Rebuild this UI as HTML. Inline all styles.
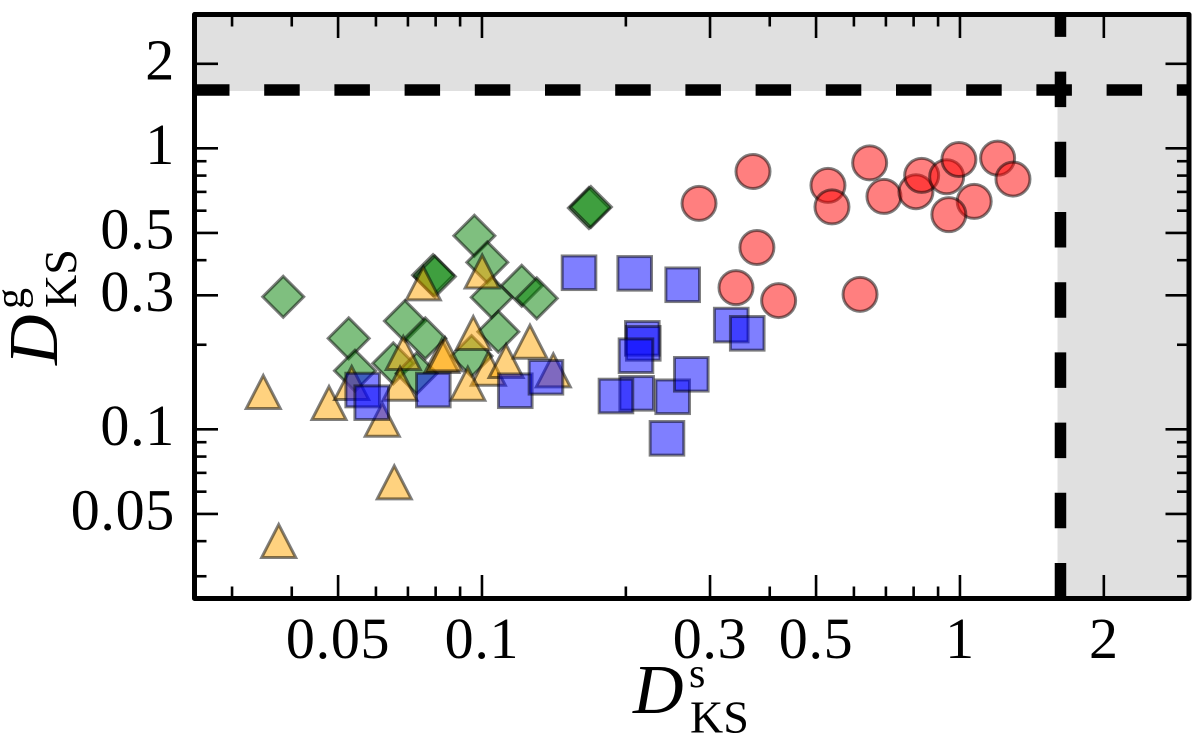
<!DOCTYPE html>
<html lang="en">
<head>
<meta charset="utf-8">
<title>Scatter of D_KS^s against D_KS^g</title>
<style>
  html, body { margin: 0; padding: 0; background: #ffffff; }
  svg { display: block; font-family: "Liberation Serif", serif; }
  .tick-label { font-size: 58px; fill: #000; letter-spacing: 0.7px; }
</style>
</head>
<body>
<svg id="chart" width="1200" height="737" viewBox="0 0 1200 737" xmlns="http://www.w3.org/2000/svg">
  <g id="shade-layer"></g>
  <g id="tick-layer"></g>
  <g id="red-layer"></g>
  <g id="green-layer"></g>
  <g id="orange-layer"></g>
  <g id="blue-layer"></g>
  <g id="limit-layer"></g>
  <rect x="194.5" y="14.5" width="994.5" height="584" fill="none" stroke="#000" stroke-width="5" stroke-linejoin="round"/>
  <g id="label-layer"></g>
  <g>
    <text x="633" y="713" font-size="70" font-style="italic">D</text>
    <text x="689" y="687" font-size="42">s</text>
    <text x="690" y="732.5" font-size="46">KS</text>
  </g>
  <g>
    <text transform="translate(57,365) rotate(-90)" font-size="70" font-style="italic">D</text>
    <text transform="translate(24,309) rotate(-90)" font-size="42">g</text>
    <text transform="translate(76,308) rotate(-90)" font-size="46">KS</text>
  </g>
</svg>
<script>
const redX = [0.369,0.2845,0.5295,0.5398,0.6473,0.6934,0.809,0.8316,0.938,0.995,1.071,0.948,1.199,1.291,0.376,0.340,0.4175,0.618];
const redY = [0.8274,0.637,0.738,0.619,0.888,0.6745,0.701,0.801,0.7925,0.9126,0.6477,0.581,0.923,0.7775,0.4438,0.3194,0.2872,0.3023];
const greenX = [0.1674,0.1690,0.0964,0.1026,0.0790,0.0797,0.03839,0.1211,0.1302,0.1048,0.0690,0.0761,0.1082,0.05262,0.05424,0.06523,0.0951,0.0730];
const greenY = [0.6131,0.6182,0.4887,0.3929,0.3540,0.3499,0.2963,0.3243,0.2925,0.2949,0.2429,0.2108,0.2225,0.2108,0.1617,0.1717,0.1823,0.1582];
const orangeX = [0.03487,0.04786,0.1001,0.07538,0.0959,0.1260,0.1031,0.1123,0.06845,0.06738,0.0824,0.0837,0.0934,0.05338,0.1410,0.06186,0.06554,0.03756];
const orangeY = [0.1369,0.1251,0.3674,0.3335,0.2220,0.2067,0.1657,0.1765,0.1884,0.1465,0.1838,0.1864,0.1465,0.1474,0.1635,0.1091,0.0653,0.04037];
const blueX = [0.1596,0.05629,0.05879,0.0791,0.1174,0.1361,0.2087,0.2630,0.3323,0.3589,0.2165,0.2175,0.2100,0.2107,0.1907,0.2506,0.2741,0.2438];
const blueY = [0.3608,0.1380,0.1244,0.1380,0.1372,0.1532,0.3590,0.3270,0.2350,0.2196,0.2108,0.2023,0.1828,0.1343,0.1314,0.1306,0.1570,0.0929];

const majorTicks = [0.05,0.1,0.3,0.5,1,2];
const minorTicks = [0.03,0.04,0.06,0.07,0.08,0.09,0.2,0.4,0.6,0.7,0.8,0.9];
const xTickLabels = ["0.05","0.1","0.3","0.5","1","2"];
const yTickLabels = ["0.05","0.1","0.3","0.5","1","2"];
const axisLimits = [0.025,3];
const shadeLimit = [1.6];
const limitLineX = [1.623];
const limitLineY = [1.613];

const NS = "http://www.w3.org/2000/svg";
const logMin = Math.log10(axisLimits[0]);
const logMax = Math.log10(axisLimits[1]);
function sx(v) { return 194.2 + (Math.log10(v) - logMin) / (logMax - logMin) * (1188 - 194.2); }
function sy(v) { return 598.5 - (Math.log10(v) - logMin) / (logMax - logMin) * (598.5 - 14.3); }

function make(tag, attrs, parent) {
  const el = document.createElementNS(NS, tag);
  for (const k in attrs) el.setAttribute(k, attrs[k]);
  parent.appendChild(el);
  return el;
}
function markStyle(color) {
  return { fill: color, "fill-opacity": 0.5, stroke: "#000", "stroke-opacity": 0.5, "stroke-width": 3, "stroke-linejoin": "miter", "stroke-miterlimit": 10 };
}

/* shaded regions */
const shadeLayer = document.getElementById("shade-layer");
const shadeTop = make("rect", { x: 194.5, y: 14.5, width: 994.5, height: sy(shadeLimit[0]) - 14.5, fill: "#e0e0e0" }, shadeLayer);


const shadeRight = make("rect", { x: sx(shadeLimit[0]), y: 14.5, width: 1189 - sx(shadeLimit[0]), height: 584, fill: "#e0e0e0" }, shadeLayer);



/* ticks on all four sides */
const tickLayer = document.getElementById("tick-layer");
function drawTicks(values, len) {
  values.forEach(function (v) {
    const px = sx(v), py = sy(v);
    const segs = [[px, 598.5, px, 598.5 - len], [px, 14.5, px, 14.5 + len], [194.5, py, 194.5 + len, py], [1189, py, 1189 - len, py]];
    segs.forEach(function (s) {
      const t = make("line", { x1: s[0], y1: s[1], x2: s[2], y2: s[3], stroke: "#000", "stroke-width": 2.6 }, tickLayer);
      
      
    });
  });
}
drawTicks(majorTicks, 23.5);
drawTicks(minorTicks, 12);

/* series */
const redLayer = document.getElementById("red-layer");
redX.forEach(function (v, i) {
  const c = make("circle", Object.assign({ cx: sx(v), cy: sy(redY[i]), r: 17 }, markStyle("#ff0000")), redLayer);
  
  
});
const greenLayer = document.getElementById("green-layer");
greenX.forEach(function (v, i) {
  const x = sx(v), y = sy(greenY[i]), d = 20.5;
  const p = make("polygon", Object.assign({ points: [x, y - d, x + d, y, x, y + d, x - d, y].join(" ") }, markStyle("#008000")), greenLayer);
  
  
});
const orangeLayer = document.getElementById("orange-layer");
orangeX.forEach(function (v, i) {
  const x = sx(v), y = sy(orangeY[i]) + 1, w = 17, h = 16.5;
  const p = make("polygon", Object.assign({ points: [x, y - h, x + w, y + h, x - w, y + h].join(" ") }, markStyle("#ffa500")), orangeLayer);
  
  
});
const blueLayer = document.getElementById("blue-layer");
blueX.forEach(function (v, i) {
  const a = 16.8;
  const r = make("rect", Object.assign({ x: sx(v) - a, y: sy(blueY[i]) - a, width: 2 * a, height: 2 * a }, markStyle("#0000ff")), blueLayer);
  
  
});

/* dashed limit lines */
const limitLayer = document.getElementById("limit-layer");
const hLine = make("line", { x1: 194, y1: sy(limitLineY[0]), x2: 1189, y2: sy(limitLineY[0]), stroke: "#000", "stroke-width": 11.5, "stroke-dasharray": "35.5 34.7" }, limitLayer);


const vLine = make("line", { x1: sx(limitLineX[0]), y1: 598.5, x2: sx(limitLineX[0]), y2: 14.5, stroke: "#000", "stroke-width": 11.5, "stroke-dasharray": "35.5 34.7" }, limitLayer);



/* tick labels */
const labelLayer = document.getElementById("label-layer");
majorTicks.forEach(function (v, i) {
  const tx = make("text", { x: sx(v), y: 658, "text-anchor": "middle", class: "tick-label" }, labelLayer);
  tx.textContent = xTickLabels[i];
  
  
  const ty = make("text", { x: 175, y: sy(v) + 15.6, "text-anchor": "end", class: "tick-label" }, labelLayer);
  ty.textContent = yTickLabels[i];
  
  
});
</script>
</body>
</html>
